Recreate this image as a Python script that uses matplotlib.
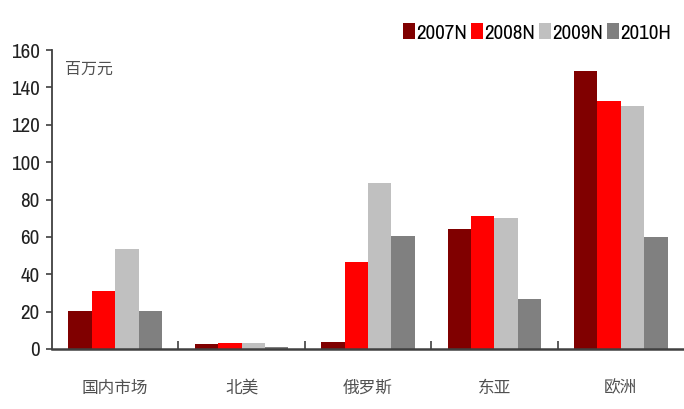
import matplotlib
matplotlib.use("Agg")
import matplotlib.pyplot as plt
import numpy as np

# 各地区销售收入（百万元）
regions = ["国内市场", "北美", "俄罗斯", "东亚", "欧洲"]
series_names = ["2007N", "2008N", "2009N", "2010H"]
sales_2007 = [20.5, 2.5, 4, 64, 149]
sales_2008 = [31, 3.4, 46.7, 71.3, 132.5]
sales_2009 = [53.6, 3.4, 88.6, 70, 130.2]
sales_2010 = [20.5, 1, 60.6, 26.6, 60]
colors = ["#800000", "#FF0000", "#C0C0C0", "#808080"]

num_font = ["Pragati Narrow", "Liberation Sans", "DejaVu Sans"]
cjk_font = ["Noto Sans CJK SC", "DejaVu Sans"]

fig = plt.figure(figsize=(6.84, 4.09), dpi=100)
ax = fig.add_axes([52 / 684, 60 / 409, 632 / 684, 299 / 409])

x = np.arange(len(regions))
width = 0.185
all_series = [sales_2007, sales_2008, sales_2009, sales_2010]
for i, (vals, name, c) in enumerate(zip(all_series, series_names, colors)):
    ax.bar(x + (i - 1.5) * width, vals, width, color=c, label=name, linewidth=0)

ax.set_xlim(-0.5, len(regions) - 0.5)
ax.set_ylim(0, 160)
ax.set_yticks(range(0, 161, 20))

# axis styling
for side in ["top", "right"]:
    ax.spines[side].set_visible(False)
ax.spines["left"].set_color("#404040")
ax.spines["left"].set_linewidth(1.3)
ax.spines["bottom"].set_color("#404040")
ax.spines["bottom"].set_linewidth(1.8)

ax.tick_params(axis="y", direction="out", length=4, width=1.2, color="#404040", pad=5)
for lbl in ax.get_yticklabels():
    lbl.set_fontfamily(num_font)
    lbl.set_fontsize(16.5)
    lbl.set_color("#222222")

ax.set_xticks(x)
ax.set_xticklabels(regions, fontfamily=cjk_font, fontsize=12, color="#505050")
ax.tick_params(axis="x", which="major", length=0, pad=22)
ax.set_xticks(x[:-1] + 0.5, minor=True)
ax.tick_params(axis="x", which="minor", direction="in", length=6, width=1.2, color="#404040")

ax.text(0.02, 0.965, "百万元", transform=ax.transAxes, fontfamily=cjk_font,
        fontsize=11.5, color="#505050", va="top", ha="left")

fig.legend(loc="upper right", bbox_to_anchor=(680 / 684, 1 - 14 / 409), ncol=4,
           frameon=False, handlelength=0.5, handleheight=0.7, handletextpad=0.05,
           columnspacing=0.2, borderaxespad=0,
           prop={"family": num_font, "size": 16.5})

fig.savefig("out.png", dpi=100)
